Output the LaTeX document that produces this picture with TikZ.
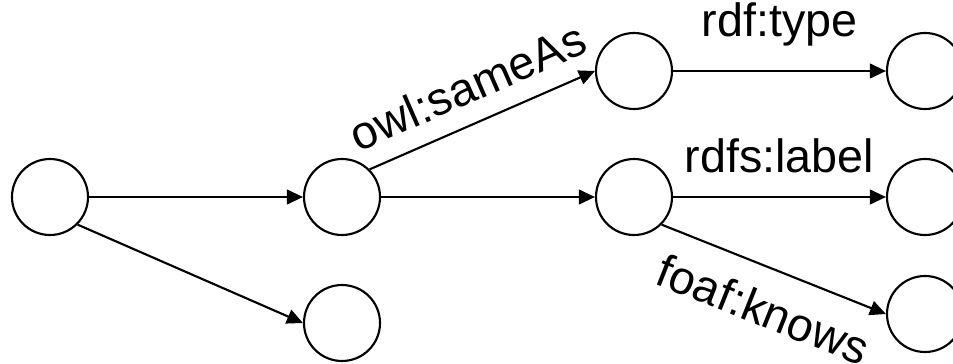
\documentclass[tikz,border=0pt]{standalone}
\usepackage{fontspec}
\setmainfont{Liberation Sans}
\usetikzlibrary{arrows.meta}
\begin{document}
\begin{tikzpicture}[x=0.75pt,y=-0.75pt,
  res/.style={circle, draw, line width=1.6pt, minimum size=57pt, inner sep=0pt},
  link/.style={-{Triangle[length=12pt,width=11pt]}, line width=1.6pt},
  lbl/.style={font=\fontsize{35pt}{38pt}\selectfont, inner sep=3pt}]
\useasboundingbox (0,0) rectangle (953,364);
\node[res] (A) at (50,197) {};
\node[res] (B) at (342,197) {};
\node[res] (C) at (342,323) {};
\node[res] (D) at (634,71) {};
\node[res] (E) at (634,197) {};
\node[res] (F) at (925,71) {};
\node[res] (G) at (925,197) {};
\node[res] (H) at (925,314) {};
\draw[link] (A.east) -- (B.west);
\draw[link] (A.-45) -- (C.west);
\draw[link] (B.45) -- node[lbl, sloped, above=11pt] {owl:sameAs} (D.west);
\draw[link] (B.east) -- (E.west);
\draw[link] (D.east) -- node[lbl, above=15pt] {rdf:type} (F.west);
\draw[link] (E.east) -- node[lbl, above=14pt] {rdfs:label} (G.west);
\draw[link] (E.-45) -- node[lbl, sloped, below=14pt, xshift=4pt] {foaf:knows} (H.west);
\end{tikzpicture}
\end{document}
